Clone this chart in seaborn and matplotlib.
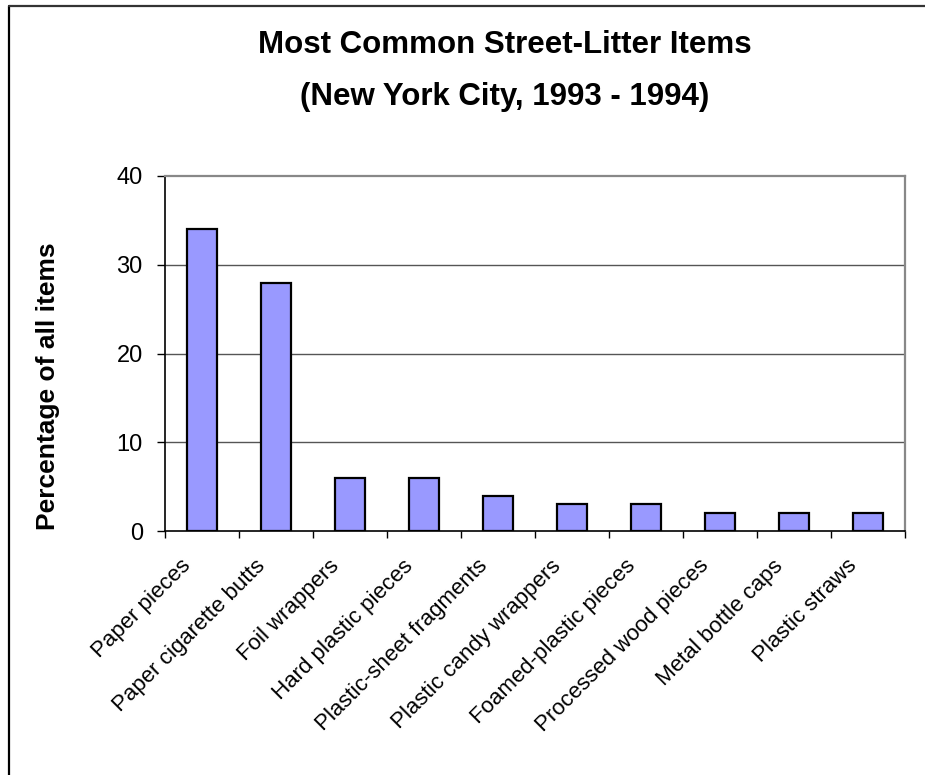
import matplotlib
matplotlib.use("Agg")
import matplotlib.pyplot as plt
import matplotlib.transforms as mtransforms
import seaborn as sns
import pandas as pd
from matplotlib.lines import Line2D

categories = ["Paper pieces", "Paper cigarette butts", "Foil wrappers", "Hard plastic pieces",
              "Plastic-sheet fragments", "Plastic candy wrappers", "Foamed-plastic pieces",
              "Processed wood pieces", "Metal bottle caps", "Plastic straws"]
values = [34, 28, 6, 6, 4, 3, 3, 2, 2, 2]
yticks = [0, 10, 20, 30, 40]

sns.set_theme(style="white")
plt.rcParams['font.family'] = ['Liberation Sans', 'DejaVu Sans']
plt.rcParams['text.color'] = 'black'
plt.rcParams['axes.labelcolor'] = 'black'
plt.rcParams['xtick.color'] = 'black'
plt.rcParams['ytick.color'] = 'black'

df = pd.DataFrame({"item": categories, "pct": values})

fig = plt.figure(figsize=(9.25, 7.75), dpi=100)
ax = fig.add_axes([165/925, 1-531/775, (905-165)/925, (531-176)/775])

sns.barplot(data=df, x="item", y="pct", ax=ax, color="#9999FF", saturation=1,
            width=0.41, edgecolor="black", linewidth=1.6, zorder=3)

ax.set_ylim(0, 40)
ax.set_xlim(-0.5, len(categories) - 0.5)
ax.set_yticks(yticks)
ax.set_yticklabels([str(t) for t in yticks], fontsize=17)
for t in yticks[1:4]:
    ax.axhline(t, color="#555555", lw=1.0, zorder=1)

ax.set_xticks(range(len(categories)))
ax.set_xticklabels(categories, rotation=45, ha="right", va="center",
                   rotation_mode="anchor", fontsize=16)
ax.tick_params(axis="x", length=0, pad=23)
ax.tick_params(axis="y", length=6, width=1, color="black", left=True, pad=10)
offset = mtransforms.ScaledTranslation(-14/100, 0, fig.dpi_scale_trans)
for lbl in ax.get_xticklabels():
    lbl.set_transform(lbl.get_transform() + offset)
# minor ticks at category boundaries on x axis
ax.set_xticks([i - 0.5 for i in range(len(categories) + 1)], minor=True)
ax.tick_params(axis="x", which="minor", length=5, width=1, color="black", bottom=True, direction="out")

for s in ["left", "bottom"]:
    ax.spines[s].set_color("black")
    ax.spines[s].set_linewidth(1.2)
for s in ["top", "right"]:
    ax.spines[s].set_color("#888888")
    ax.spines[s].set_linewidth(1.6)

ax.set_xlabel("")
ax.set_ylabel("")
fig.text(48/925, 1-386/775, "Percentage of all items", rotation=90, ha="center", va="center",
         fontsize=19, fontweight="bold")

fig.text(505/925, 1-45/775, "Most Common Street-Litter Items", ha="center", va="center",
         fontsize=22.5, fontweight="bold")
fig.text(505/925, 1-97/775, "(New York City, 1993 - 1994)", ha="center", va="center",
         fontsize=22.5, fontweight="bold")

# figure border (left and top visible)
fig.add_artist(Line2D([9/925, 9/925], [0, 1-6/775], transform=fig.transFigure, color="black", lw=1.6))
fig.add_artist(Line2D([9/925, 1], [1-6/775, 1-6/775], transform=fig.transFigure, color="#333333", lw=1.6))

fig.savefig("out.png", dpi=100)
